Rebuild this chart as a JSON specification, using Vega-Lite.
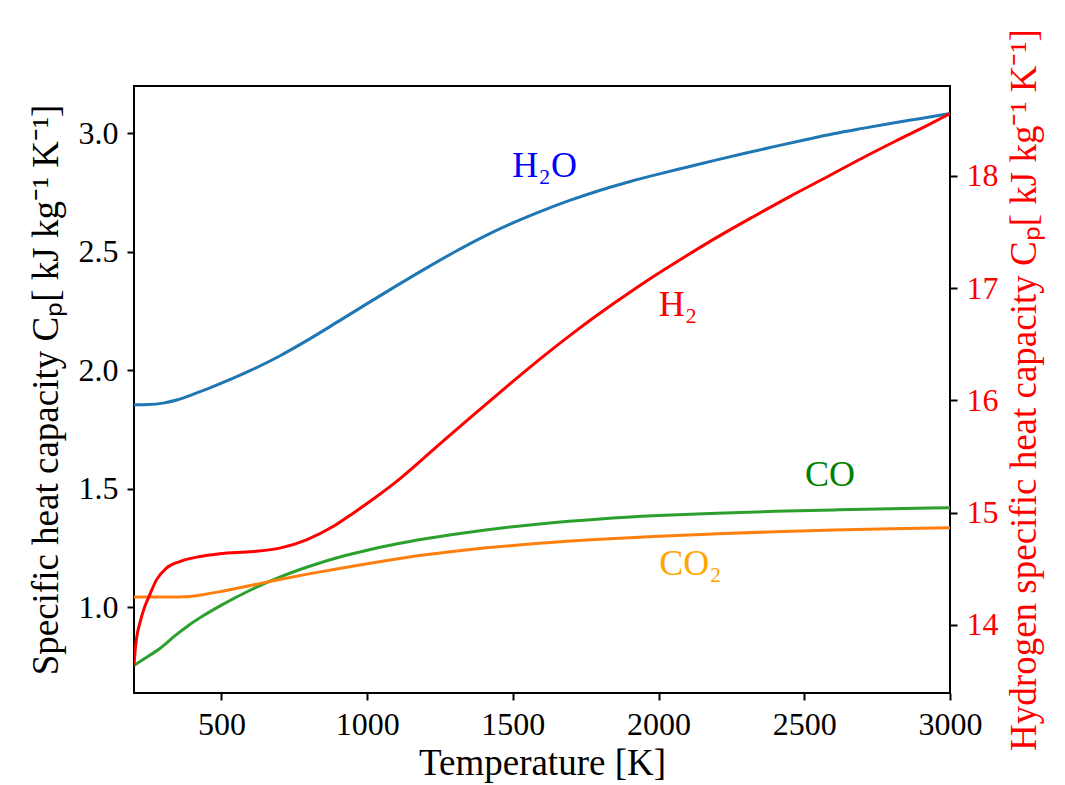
{
  "$schema": "https://vega.github.io/schema/vega-lite/v6.json",
  "width": 816,
  "height": 607,
  "autosize": {"type": "none"},
  "padding": {"left": 134, "top": 86, "right": 115, "bottom": 92},
  "background": "white",
  "config": {
    "view": {"stroke": "black", "strokeWidth": 2},
    "font": "Liberation Serif",
    "axis": {
      "labelFont": "Liberation Serif",
      "titleFont": "Liberation Serif",
      "labelFontSize": 32,
      "titleFontSize": 37,
      "titleFontWeight": "normal",
      "labelColor": "black",
      "titleColor": "black",
      "tickColor": "black",
      "tickSize": 7,
      "tickWidth": 2,
      "labelPadding": 9,
      "domain": false,
      "grid": false,
      "labelOverlap": false,
      "labelFlush": false
    }
  },
  "datasets": {
    "gases": [
      {"species": "H2O", "T": 200, "cp": 1.854},
      {"species": "H2O", "T": 250, "cp": 1.855},
      {"species": "H2O", "T": 300, "cp": 1.861},
      {"species": "H2O", "T": 350, "cp": 1.875},
      {"species": "H2O", "T": 400, "cp": 1.897},
      {"species": "H2O", "T": 450, "cp": 1.92},
      {"species": "H2O", "T": 500, "cp": 1.945},
      {"species": "H2O", "T": 600, "cp": 1.999},
      {"species": "H2O", "T": 700, "cp": 2.06},
      {"species": "H2O", "T": 800, "cp": 2.13},
      {"species": "H2O", "T": 900, "cp": 2.205},
      {"species": "H2O", "T": 1000, "cp": 2.281},
      {"species": "H2O", "T": 1100, "cp": 2.356},
      {"species": "H2O", "T": 1200, "cp": 2.429},
      {"species": "H2O", "T": 1300, "cp": 2.499},
      {"species": "H2O", "T": 1400, "cp": 2.564},
      {"species": "H2O", "T": 1500, "cp": 2.622},
      {"species": "H2O", "T": 1600, "cp": 2.673},
      {"species": "H2O", "T": 1700, "cp": 2.719},
      {"species": "H2O", "T": 1800, "cp": 2.76},
      {"species": "H2O", "T": 1900, "cp": 2.796},
      {"species": "H2O", "T": 2000, "cp": 2.828},
      {"species": "H2O", "T": 2100, "cp": 2.858},
      {"species": "H2O", "T": 2200, "cp": 2.888},
      {"species": "H2O", "T": 2300, "cp": 2.917},
      {"species": "H2O", "T": 2400, "cp": 2.945},
      {"species": "H2O", "T": 2500, "cp": 2.972},
      {"species": "H2O", "T": 2600, "cp": 2.998},
      {"species": "H2O", "T": 2700, "cp": 3.021},
      {"species": "H2O", "T": 2800, "cp": 3.043},
      {"species": "H2O", "T": 2900, "cp": 3.063},
      {"species": "H2O", "T": 3000, "cp": 3.0835},

      {"species": "CO", "T": 200, "cp": 0.7535},
      {"species": "CO", "T": 250, "cp": 0.793},
      {"species": "CO", "T": 290, "cp": 0.826},
      {"species": "CO", "T": 300, "cp": 0.836},
      {"species": "CO", "T": 340, "cp": 0.878},
      {"species": "CO", "T": 380, "cp": 0.916},
      {"species": "CO", "T": 440, "cp": 0.965},
      {"species": "CO", "T": 500, "cp": 1.008},
      {"species": "CO", "T": 600, "cp": 1.072},
      {"species": "CO", "T": 700, "cp": 1.126},
      {"species": "CO", "T": 800, "cp": 1.171},
      {"species": "CO", "T": 900, "cp": 1.209},
      {"species": "CO", "T": 1000, "cp": 1.24},
      {"species": "CO", "T": 1100, "cp": 1.266},
      {"species": "CO", "T": 1200, "cp": 1.288},
      {"species": "CO", "T": 1300, "cp": 1.307},
      {"species": "CO", "T": 1400, "cp": 1.324},
      {"species": "CO", "T": 1500, "cp": 1.339},
      {"species": "CO", "T": 1600, "cp": 1.352},
      {"species": "CO", "T": 1800, "cp": 1.372},
      {"species": "CO", "T": 2000, "cp": 1.386},
      {"species": "CO", "T": 2200, "cp": 1.396},
      {"species": "CO", "T": 2400, "cp": 1.404},
      {"species": "CO", "T": 2600, "cp": 1.41},
      {"species": "CO", "T": 2800, "cp": 1.415},
      {"species": "CO", "T": 3000, "cp": 1.419},

      {"species": "CO2", "T": 200, "cp": 1.042},
      {"species": "CO2", "T": 250, "cp": 1.042},
      {"species": "CO2", "T": 300, "cp": 1.042},
      {"species": "CO2", "T": 340, "cp": 1.042},
      {"species": "CO2", "T": 370, "cp": 1.043},
      {"species": "CO2", "T": 400, "cp": 1.046},
      {"species": "CO2", "T": 440, "cp": 1.053},
      {"species": "CO2", "T": 500, "cp": 1.066},
      {"species": "CO2", "T": 600, "cp": 1.091},
      {"species": "CO2", "T": 700, "cp": 1.116},
      {"species": "CO2", "T": 800, "cp": 1.14},
      {"species": "CO2", "T": 900, "cp": 1.162},
      {"species": "CO2", "T": 1000, "cp": 1.183},
      {"species": "CO2", "T": 1100, "cp": 1.203},
      {"species": "CO2", "T": 1200, "cp": 1.221},
      {"species": "CO2", "T": 1300, "cp": 1.236},
      {"species": "CO2", "T": 1400, "cp": 1.249},
      {"species": "CO2", "T": 1500, "cp": 1.26},
      {"species": "CO2", "T": 1600, "cp": 1.27},
      {"species": "CO2", "T": 1800, "cp": 1.286},
      {"species": "CO2", "T": 2000, "cp": 1.299},
      {"species": "CO2", "T": 2200, "cp": 1.309},
      {"species": "CO2", "T": 2400, "cp": 1.318},
      {"species": "CO2", "T": 2600, "cp": 1.325},
      {"species": "CO2", "T": 2800, "cp": 1.331},
      {"species": "CO2", "T": 3000, "cp": 1.335}
    ],
    "hydrogen": [
      {"T": 200, "cp": 13.64},
      {"T": 205, "cp": 13.8},
      {"T": 210, "cp": 13.9},
      {"T": 220, "cp": 14.015},
      {"T": 237, "cp": 14.163},
      {"T": 254, "cp": 14.267},
      {"T": 277, "cp": 14.4},
      {"T": 311, "cp": 14.505},
      {"T": 357, "cp": 14.563},
      {"T": 426, "cp": 14.608},
      {"T": 494, "cp": 14.632},
      {"T": 609, "cp": 14.653},
      {"T": 700, "cp": 14.683},
      {"T": 792, "cp": 14.757},
      {"T": 883, "cp": 14.875},
      {"T": 952, "cp": 14.994},
      {"T": 1021, "cp": 15.12},
      {"T": 1112, "cp": 15.3},
      {"T": 1234, "cp": 15.575},
      {"T": 1356, "cp": 15.85},
      {"T": 1477, "cp": 16.117},
      {"T": 1599, "cp": 16.38},
      {"T": 1720, "cp": 16.625},
      {"T": 1842, "cp": 16.855},
      {"T": 1963, "cp": 17.07},
      {"T": 2085, "cp": 17.27},
      {"T": 2206, "cp": 17.46},
      {"T": 2328, "cp": 17.64},
      {"T": 2450, "cp": 17.815},
      {"T": 2571, "cp": 17.98},
      {"T": 2693, "cp": 18.15},
      {"T": 2814, "cp": 18.31},
      {"T": 2900, "cp": 18.42},
      {"T": 3000, "cp": 18.555}
    ],
    "names": [
      {"label": "H₂O", "T": 1609, "cp": 2.817},
      {"label": "H₂", "T": 2067, "cp": 2.227},
      {"label": "CO", "T": 2588, "cp": 1.51},
      {"label": "CO₂", "T": 2110, "cp": 1.136}
    ]
  },
  "layer": [
    {
      "layer": [
        {
          "data": {"name": "gases"},
          "mark": {"type": "line", "strokeWidth": 3, "interpolate": "monotone", "clip": true},
          "encoding": {
            "x": {
              "field": "T",
              "type": "quantitative",
              "scale": {"domain": [200, 3000], "nice": false, "zero": false},
              "axis": {
                "title": "Temperature [K]",
                "values": [500, 1000, 1500, 2000, 2500, 3000],
                "format": "d",
                "titlePadding": 5
              }
            },
            "y": {
              "field": "cp",
              "type": "quantitative",
              "scale": {"domain": [0.637, 3.2], "nice": false, "zero": false},
              "axis": {
                "title": "Specific heat capacity Cₚ[ kJ kg⁻¹ K⁻¹]",
                "values": [1.0, 1.5, 2.0, 2.5, 3.0],
                "format": ".1f",
                "titlePadding": 13
              }
            },
            "stroke": {
              "field": "species",
              "type": "nominal",
              "scale": {"domain": ["H2O", "CO", "CO2"], "range": ["#1f77b4", "#2ca02c", "#ff7f0e"]},
              "legend": null
            },
            "detail": {"field": "species"}
          }
        },
        {
          "data": {"name": "names"},
          "mark": {"type": "text", "fontSize": 36, "font": "Liberation Serif", "align": "center", "baseline": "alphabetic"},
          "encoding": {
            "x": {"field": "T", "type": "quantitative"},
            "y": {
              "field": "cp",
              "type": "quantitative",
              "axis": {
                "title": "Specific heat capacity Cₚ[ kJ kg⁻¹ K⁻¹]",
                "values": [1.0, 1.5, 2.0, 2.5, 3.0],
                "format": ".1f",
                "titlePadding": 13
              }
            },
            "text": {"field": "label"},
            "fill": {
              "field": "label",
              "type": "nominal",
              "scale": {"domain": ["H₂O", "H₂", "CO", "CO₂"], "range": ["#0000ff", "#ff0000", "#008000", "#ffa500"]},
              "legend": null
            }
          }
        }
      ]
    },
    {
      "data": {"name": "hydrogen"},
      "mark": {"type": "line", "strokeWidth": 3, "color": "#ff0000", "interpolate": "monotone", "clip": true},
      "encoding": {
        "x": {"field": "T", "type": "quantitative"},
        "y": {
          "field": "cp",
          "type": "quantitative",
          "scale": {"domain": [13.392, 18.8], "nice": false, "zero": false},
          "axis": {
            "orient": "right",
            "title": "Hydrogen specific heat capacity Cₚ[ kJ kg⁻¹ K⁻¹]",
            "values": [14, 15, 16, 17, 18],
            "format": "d",
            "labelColor": "#ff0000",
            "titleColor": "#ff0000",
            "titleAngle": 270,
            "titleBaseline": "top",
            "titlePadding": 8
          }
        }
      }
    }
  ],
  "resolve": {"scale": {"y": "independent"}}
}
